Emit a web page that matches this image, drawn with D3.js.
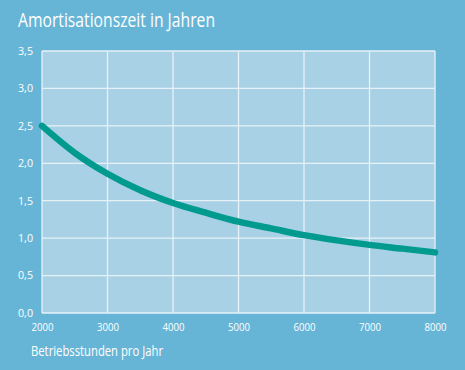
<!DOCTYPE html>
<html><head><meta charset="utf-8">
<script src="https://cdn.jsdelivr.net/npm/d3@7"></script>
<style>
html,body{margin:0;padding:0;background:#67b5d6;}
svg{display:block;}
text{font-family:"Open Sans",sans-serif;fill:#fff;}
</style></head>
<body>
<script>
const hours = [2000,2500,3000,3500,4000,4500,5000,5500,6000,6500,7000,7500,8000];
const years = [2.5,2.14,1.86,1.64,1.47,1.34,1.22,1.13,1.04,0.97,0.91,0.86,0.81];
const xTicks = [2000,3000,4000,5000,6000,7000,8000];
const yTicks = [0,0.5,1,1.5,2,2.5,3,3.5];
const title = "Amortisationszeit in Jahren";
const xTitle = "Betriebsstunden pro Jahr";

const W=465,H=370;
const m={left:42,right:30,top:51,bottom:57};
const svg=d3.select("body").append("svg").attr("width",W).attr("height",H);
svg.append("rect").attr("width",W).attr("height",H).attr("fill","#67b5d6");

const x=d3.scaleLinear().domain([2000,8000]).range([m.left,W-m.right]);
const y=d3.scaleLinear().domain([0,3.5]).range([H-m.bottom,m.top]);

svg.append("rect").attr("x",x(2000)).attr("y",y(3.5))
  .attr("width",x(8000)-x(2000)).attr("height",y(0)-y(3.5)).attr("fill","#a8d1e6");

const g=svg.append("g");
g.selectAll(".vg").data(xTicks).join("line")
  .attr("x1",d=>x(d)).attr("x2",d=>x(d)).attr("y1",y(0)).attr("y2",y(3.5))
  .attr("stroke","#e6f2f8").attr("stroke-width",1.3);
g.selectAll(".hg").data(yTicks).join("line")
  .attr("x1",x(2000)).attr("x2",x(8000)).attr("y1",d=>y(d)).attr("y2",d=>y(d))
  .attr("stroke","#e6f2f8").attr("stroke-width",1.3);

const fmt=d=>d3.format(".1f")(d).replace(".",",");
const ya=d3.axisLeft(y).tickValues(yTicks).tickFormat(fmt).tickSize(0).tickPadding(9);
const ay=svg.append("g").attr("transform",`translate(${x(2000)},0)`).call(ya);
ay.select(".domain").remove();
ay.selectAll("text").attr("font-size",10.5).attr("fill","#fff").attr("font-family",null)
  .attr("textLength",15).attr("lengthAdjust","spacingAndGlyphs");

const xa=d3.axisBottom(x).tickValues(xTicks).tickFormat(d3.format("d")).tickSize(0).tickPadding(11);
const ax=svg.append("g").attr("transform",`translate(0,${y(0)})`).call(xa);
ax.select(".domain").remove();
ax.selectAll("text").attr("font-size",10.5).attr("fill","#fff").attr("font-family",null)
  .attr("textLength",22).attr("lengthAdjust","spacingAndGlyphs");

const line=d3.line().x((d,i)=>x(hours[i])).y(d=>y(d)).curve(d3.curveMonotoneX);
svg.append("path").datum(years).attr("d",line).attr("fill","none")
  .attr("stroke","#009a8e").attr("stroke-width",6.5).attr("stroke-linecap","round");

svg.append("text").attr("x",18).attr("y",27).attr("font-size",19.5)
  .attr("textLength",197).attr("lengthAdjust","spacingAndGlyphs").text(title);
svg.append("text").attr("x",31).attr("y",356).attr("font-size",14)
  .attr("textLength",132).attr("lengthAdjust","spacingAndGlyphs").text(xTitle);
</script>
</body></html>
